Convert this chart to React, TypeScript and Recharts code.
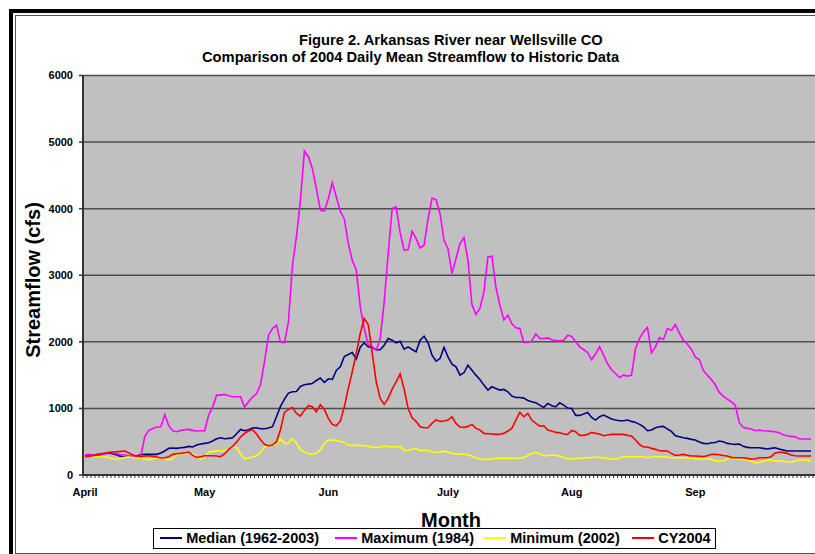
import { LineChart, Line, XAxis, YAxis, CartesianGrid, Legend } from "recharts"

const FONT = "Arial, 'Liberation Sans', Helvetica, sans-serif"

const MONTHS = ["April", "May", "Jun", "July", "Aug", "Sep"]
const MONTH_START_DAY = [0, 30, 61, 91, 122, 153]
const Y_TICKS = [0, 1000, 2000, 3000, 4000, 5000, 6000]

// daily mean streamflow (cfs), Apr 1 - Sep 30
const MEDIAN = [
  // Apr
  290, 295, 300, 300, 310, 320, 330, 320, 300, 280, 270, 270, 280, 290, 305, 310, 310, 310, 310, 330,
  360, 400, 405, 400, 410, 415, 430, 420, 450, 465,
  // May
  475, 485, 510, 545, 560, 545, 550, 560, 620, 685, 665, 680, 705, 710, 695, 695, 705, 725, 875, 1030,
  1140, 1230, 1250, 1255, 1330, 1355, 1365, 1375, 1420, 1455, 1390,
  // Jun
  1445, 1435, 1570, 1625, 1780, 1810, 1840, 1740, 1920, 1985, 1925, 1915, 1880, 1880, 1950, 2050, 2025, 1985, 2010, 1890,
  1925, 1885, 1850, 2025, 2085, 1985, 1800, 1710, 1750, 1915,
  // Jul
  1775, 1665, 1625, 1500, 1535, 1650, 1575, 1500, 1435, 1350, 1275, 1325, 1300, 1275, 1285, 1250, 1185, 1165, 1165, 1155,
  1120, 1100, 1085, 1050, 1015, 1075, 1040, 1025, 1085, 1050, 1005,
  // Aug
  1000, 895, 895, 915, 940, 865, 825, 875, 900, 870, 840, 825, 815, 815, 825, 805, 790, 760, 725, 665,
  675, 710, 725, 730, 690, 655, 590, 575, 560, 550, 535,
  // Sep
  525, 495, 475, 470, 485, 488, 510, 500, 475, 465, 460, 465, 430, 415, 410, 410, 410, 400, 390, 400,
  410, 390, 375, 360, 360, 360, 360, 360, 360, 360,
]

const MAXIMUM = [
  300, 310, 300, 305, 310, 320, 345, 330, 320, 305, 300, 290, 280, 280, 285, 580, 670, 700, 720, 725,
  905, 740, 665, 650, 670, 680, 685, 670, 660, 665,
  665, 900, 1020, 1200, 1200, 1210, 1190, 1175, 1175, 1175, 1020, 1100, 1170, 1220, 1360, 1700, 2100, 2200, 2250, 2000,
  1985, 2300, 3150, 3575, 4125, 4865, 4780, 4600, 4300, 3980, 3965,
  4150, 4390, 4175, 3960, 3850, 3480, 3220, 3080, 2530, 2200, 1950, 1930, 1875, 2050, 2600, 3325, 4000, 4025, 3640, 3375,
  3385, 3660, 3550, 3410, 3450, 3850, 4160, 4135, 3925, 3525,
  3400, 3025, 3250, 3475, 3565, 3225, 2560, 2410, 2500, 2750, 3275, 3285, 2825, 2550, 2330, 2400, 2275, 2210, 2200, 1990,
  1995, 2010, 2120, 2050, 2050, 2060, 2030, 2020, 2015, 2025, 2100,
  2080, 2000, 1925, 1885, 1840, 1730, 1820, 1925, 1800, 1670, 1580, 1525, 1465, 1500, 1485, 1500, 1900, 2050, 2150, 2215,
  1835, 1925, 2065, 2035, 2200, 2175, 2260, 2130, 2025, 1965, 1890,
  1770, 1735, 1570, 1500, 1435, 1355, 1240, 1185, 1140, 1100, 1050, 790, 715, 700, 690, 665, 675, 665, 660, 655,
  650, 635, 605, 590, 580, 575, 545, 540, 540, 540,
]

const MINIMUM = [
  275, 275, 275, 275, 275, 275, 260, 240, 240, 248, 265, 270, 262, 255, 252, 245, 228, 240, 262, 255,
  238, 228, 245, 300, 318, 325, 325, 318, 278, 240,
  265, 340, 355, 362, 365, 365, 390, 420, 410, 320, 245, 255, 270, 290, 340, 415, 445, 450, 455, 545,
  475, 475, 548, 478, 380, 345, 320, 312, 325, 380, 470,
  525, 525, 515, 505, 490, 452, 440, 448, 445, 440, 430, 415, 415, 420, 433, 428, 425, 425, 425, 368,
  372, 385, 398, 370, 368, 372, 345, 340, 345, 358,
  340, 328, 315, 315, 312, 305, 280, 260, 240, 235, 235, 242, 250, 250, 250, 250, 250, 250, 255, 262,
  295, 320, 340, 315, 290, 290, 300, 292, 282, 262, 245,
  242, 248, 250, 255, 260, 262, 265, 265, 255, 248, 242, 240, 255, 275, 275, 275, 275, 275, 275, 260,
  270, 275, 275, 275, 268, 260, 260, 260, 260, 260, 255,
  245, 240, 240, 240, 238, 212, 210, 215, 240, 270, 238, 235, 235, 228, 212, 180, 188, 205, 225, 220,
  210, 210, 210, 200, 192, 210, 225, 225, 222, 212,
]

const CY2004 = [
  275, 280, 290, 310, 320, 330, 335, 345, 350, 355, 360, 330, 300, 285, 275, 285, 290, 280, 270, 255,
  260, 275, 310, 320, 325, 335, 345, 295, 265, 275,
  290, 290, 290, 285, 275, 320, 385, 430, 495, 570, 625, 660, 685, 615, 530, 460, 440, 450, 500, 680,
  940, 985, 1015, 925, 885, 970, 1040, 1025, 950, 1055, 985,
  850, 760, 740, 810, 1020, 1300, 1550, 1825, 2125, 2350, 2260, 1830, 1400, 1150, 1060, 1150, 1290, 1400, 1520, 1290,
  1000, 860, 805, 725, 710, 710, 775, 830, 805, 810,
  825, 875, 775, 720, 715, 730, 760, 700, 675, 625, 620, 615, 610, 612, 625, 660, 700, 825, 940, 875,
  925, 825, 775, 735, 740, 675, 660, 640, 635, 615, 610,
  670, 650, 595, 595, 610, 640, 625, 615, 590, 600, 610, 610, 610, 610, 595, 585, 525, 460, 420, 420,
  400, 385, 365, 362, 360, 325, 295, 300, 310, 295, 285,
  285, 282, 278, 290, 310, 310, 305, 292, 285, 265, 260, 260, 260, 250, 238, 245, 258, 260, 260, 275,
  330, 340, 340, 325, 300, 290, 285, 285, 285, 285,
]

const SERIES_KEYS = ["median", "maximum", "minimum", "cy2004"]
const SERIES_NAMES = ["Median (1962-2003)", "Maximum (1984)", "Minimum (2002)", "CY2004"]
const SERIES_COLORS = ["#000080", "#FF00FF", "#FFFF00", "#FF0000"]

const data = MEDIAN.map((_, i) => ({
  day: i,
  median: MEDIAN[i],
  maximum: MAXIMUM[i],
  minimum: MINIMUM[i],
  cy2004: CY2004[i],
}))

// one tick mark per day boundary
const DAY_TICKS = Array.from({ length: MEDIAN.length + 1 }, (_, i) => i - 0.5)

const CHART_W = 817
const AXIS_W = 83
const DAY_PX = (CHART_W - AXIS_W) / (MEDIAN.length + 1)
const LEGEND_LEFT = [5.5, 180.5, 329.5, 477.5]

function MonthTick({ x, y, payload }: any) {
  const idx = MONTH_START_DAY.indexOf(payload.value + 0.5)
  if (idx < 0) return <g />
  return (
    <text
      x={x + DAY_PX / 2}
      y={y}
      dy="0.71em"
      textAnchor="middle"
      fontSize={11}
      fontWeight="bold"
      fontFamily={FONT}
      fill="#000"
    >
      {MONTHS[idx]}
    </text>
  )
}

function ChartLegend({ payload }: any) {
  const items = [...(payload ?? [])].sort(
    (a: any, b: any) => SERIES_KEYS.indexOf(a.dataKey) - SERIES_KEYS.indexOf(b.dataKey)
  )
  return (
    <div
      style={{
        position: "relative",
        width: "100%",
        height: 21,
        boxSizing: "border-box",
        border: "1.5px solid #000",
        background: "#fff",
        fontFamily: FONT,
        fontWeight: "bold",
        fontSize: 14.5,
      }}
    >
      {items.map((entry: any, i: number) => (
        <div
          key={entry.value}
          style={{
            position: "absolute",
            left: LEGEND_LEFT[i],
            top: 0,
            height: 18,
            display: "flex",
            alignItems: "center",
            whiteSpace: "nowrap",
          }}
        >
          <span style={{ display: "inline-block", width: 22, height: 1.6, background: entry.color, marginRight: 4.7 }} />
          <span style={{ color: "#000", lineHeight: "18px" }}>{entry.value}</span>
        </div>
      ))}
    </div>
  )
}

export default function App() {
  const textBase = { position: "absolute" as const, fontFamily: FONT, fontWeight: "bold" as const, color: "#000", whiteSpace: "nowrap" as const }
  return (
    <div style={{ position: "relative", width: 815, height: 554, overflow: "hidden", background: "#fff" }}>
      <style>{`html,body{margin:0;padding:0;overflow:hidden;background:#fff}`}</style>
      <div style={{ position: "absolute", left: 9, top: 9, width: 900, height: 700, border: "4px solid #000" }} />
      <div style={{ position: "absolute", left: 15, top: 15, width: 900, height: 537, border: "1px solid #555" }} />

      <div style={{ position: "absolute", left: 0, top: 0 }}>
        <LineChart width={CHART_W} height={554} data={data} margin={{ top: 75.5, right: 0, bottom: 49, left: 0 }}>
          <CartesianGrid vertical={false} fill="#C0C0C0" fillOpacity={1} stroke="#4d4d4d" strokeWidth={1.5} />
          <XAxis
            dataKey="day"
            type="number"
            domain={[-0.5, MEDIAN.length + 0.5]}
            ticks={DAY_TICKS}
            interval={0}
            height={30}
            tickSize={3}
            tickMargin={10}
            axisLine={{ stroke: "#333", strokeWidth: 2 }}
            tickLine={{ stroke: "#333", strokeWidth: 1 }}
            tick={MonthTick}
          />
          <YAxis
            type="number"
            domain={[0, 6000]}
            ticks={Y_TICKS}
            interval={0}
            width={AXIS_W}
            tickSize={4}
            tickMargin={6}
            axisLine={{ stroke: "#333", strokeWidth: 2 }}
            tickLine={{ stroke: "#333", strokeWidth: 1.5 }}
            tick={{ fontSize: 11, fontWeight: "bold", fill: "#000", fontFamily: FONT }}
          />
          <Legend
            layout="horizontal"
            verticalAlign="middle"
            align="center"
            wrapperStyle={{ position: "absolute", left: 153, top: 528, width: 563, height: 21 }}
            content={ChartLegend}
          />
          {SERIES_KEYS.map((key, i) => (
            <Line
              key={key}
              type="linear"
              dataKey={key}
              name={SERIES_NAMES[i]}
              stroke={SERIES_COLORS[i]}
              strokeWidth={1.6}
              dot={false}
              activeDot={false}
              isAnimationActive={false}
            />
          ))}
        </LineChart>
      </div>

      <div style={{ ...textBase, left: 299, top: 33.3, fontSize: 14.7, lineHeight: "14.7px" }}>
        Figure 2. Arkansas River near Wellsville CO
      </div>
      <div style={{ ...textBase, left: 202, top: 50, fontSize: 14.7, lineHeight: "14.7px" }}>
        Comparison of 2004 Daily Mean Streamflow to Historic Data
      </div>
      <div
        style={{
          ...textBase,
          left: -67.5,
          top: 267.5,
          width: 200,
          height: 24,
          fontSize: 20,
          lineHeight: "24px",
          textAlign: "center",
          transform: "rotate(-90deg)",
        }}
      >
        Streamflow (cfs)
      </div>
      <div style={{ ...textBase, left: 351, top: 510, width: 200, fontSize: 20, lineHeight: "20px", textAlign: "center" }}>
        Month
      </div>
    </div>
  )
}
